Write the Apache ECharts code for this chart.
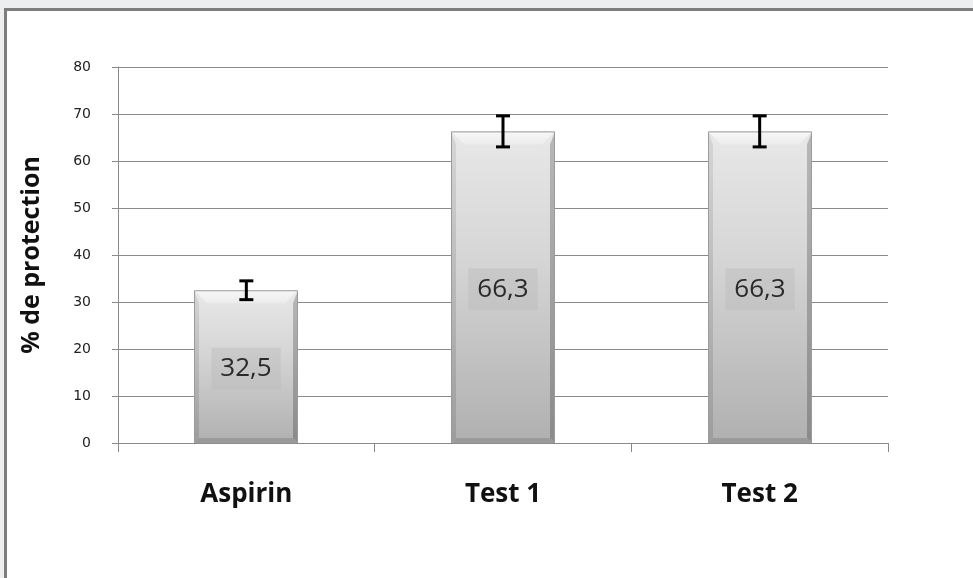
<!DOCTYPE html>
<html>
<head>
<meta charset="utf-8">
<script src="https://cdn.jsdelivr.net/npm/echarts@6/dist/echarts.min.js"></script>
<style>
html,body{margin:0;padding:0;background:#eceef0;}
#wrap{position:absolute;left:0;top:0;width:973px;height:578px;background:#eceef0;}
#frame{position:absolute;left:4px;top:8px;width:969px;height:570px;background:#fff;border-left:3px solid #7d7d7d;border-top:3px solid #7d7d7d;box-sizing:border-box;}
#chart{position:absolute;left:0;top:0;width:973px;height:578px;}
</style>
</head>
<body>
<div id="wrap"><div id="frame"></div><div id="chart"></div></div>
<script>
var categories = ['Aspirin', 'Test 1', 'Test 2'];
var values = [32.5, 66.3, 66.3];
var errors = [2.0, 3.3, 3.3];
var valueLabels = ['32,5', '66,3', '66,3'];
var yTicks = [0, 10, 20, 30, 40, 50, 60, 70, 80];

var chart = echarts.init(document.getElementById('chart'), null, {renderer: 'canvas'});

function renderBar(params, api) {
  var i = api.value(0);
  var v = api.value(1);
  var base = api.coord([i, 0]);
  var topP = api.coord([i, v]);
  var bw = 104;
  var x0 = Math.round(base[0] - bw / 2);
  var x1 = x0 + bw;
  var y0 = topP[1];
  var y1 = base[1];
  var h = y1 - y0;
  var b = 13;
  var bb = 5;
  return {
    type: 'group',
    children: [
      {type: 'rect', shape: {x: x0, y: y0, width: bw, height: h},
        style: {fill: new echarts.graphic.LinearGradient(0, 0, 0, 1, [
          {offset: 0, color: '#e8e8e8'},
          {offset: 0.4, color: '#d6d6d6'},
          {offset: 1, color: '#b0b0b0'}
        ])}},
      {type: 'polygon', shape: {points: [[x0, y0], [x0 + 5, y0 + b], [x0 + 5, y1 - bb], [x0, y1]]},
        style: {fill: new echarts.graphic.LinearGradient(0, 0, 0, 1, [
          {offset: 0, color: '#d6d6d6'},
          {offset: 1, color: '#9c9c9c'}
        ])}},
      {type: 'polygon', shape: {points: [[x1, y0], [x1 - 5, y0 + b], [x1 - 5, y1 - bb], [x1, y1]]},
        style: {fill: new echarts.graphic.LinearGradient(0, 0, 0, 1, [
          {offset: 0, color: '#b8b8b8'},
          {offset: 1, color: '#8a8a8a'}
        ])}},
      {type: 'polygon', shape: {points: [[x0, y0], [x1, y0], [x1 - 13, y0 + b], [x0 + 13, y0 + b]]},
        style: {fill: new echarts.graphic.LinearGradient(0, 0, 0, 1, [
          {offset: 0, color: '#f7f7f7'},
          {offset: 1, color: '#ececec'}
        ])}},
      {type: 'polygon', shape: {points: [[x0, y1], [x1, y1], [x1 - 5, y1 - bb], [x0 + 5, y1 - bb]]},
        style: {fill: '#9a9a9a'}},
      {type: 'rect', shape: {x: x0 + 0.5, y: y0 + 0.5, width: bw - 1, height: h - 1},
        style: {fill: null, stroke: '#9b9b9b', lineWidth: 1}},
      {type: 'text', x: (x0 + x1) / 2, y: (y0 + y1) / 2 + 2,
        style: {
          text: valueLabels[params.dataIndex],
          fontFamily: 'Open Sans', fontSize: 26, fill: '#2a2a2a',
          align: 'center', verticalAlign: 'middle',
          backgroundColor: 'rgba(185,185,185,0.4)',
          padding: [9, 9, 7, 9]
        }}
    ]
  };
}

var option = {
  backgroundColor: 'transparent',
  animation: false,
  grid: {left: 118, right: 85, top: 67, bottom: 135},
  xAxis: {
    type: 'category',
    data: categories,
    axisLine: {show: true, lineStyle: {color: '#8a8a8a', width: 1}},
    axisTick: {show: true, length: 9, lineStyle: {color: '#8a8a8a'}},
    axisLabel: {
      margin: 39,
      fontFamily: 'Open Sans',
      fontWeight: 'bold',
      fontSize: 26,
      color: '#111'
    }
  },
  yAxis: {
    type: 'value',
    min: yTicks[0],
    max: yTicks[yTicks.length - 1],
    interval: 10,
    name: '% de protection',
    nameLocation: 'middle',
    nameGap: 74,
    nameTextStyle: {fontFamily: 'Open Sans', fontWeight: 'bold', fontSize: 25, color: '#111'},
    axisLine: {show: true, lineStyle: {color: '#8a8a8a', width: 1}},
    axisTick: {show: true, length: 6, lineStyle: {color: '#8a8a8a'}},
    axisLabel: {margin: 27, fontFamily: 'DejaVu Sans', fontSize: 14, color: '#222'},
    splitLine: {show: true, lineStyle: {color: '#8a8a8a', width: 1}}
  },
  series: [
    {
      type: 'custom',
      data: values.map(function (v, i) { return [i, v]; }),
      renderItem: renderBar,
      z: 2
    },
    {
      type: 'custom',
      data: values.map(function (v, i) { return [i, v, errors[i]]; }),
      renderItem: function (params, api) {
        var x = api.value(0);
        var v = api.value(1);
        var e = api.value(2);
        var top = api.coord([x, v + e]);
        var bot = api.coord([x, v - e]);
        var hw = 7;
        var st = {stroke: '#000', lineWidth: 3};
        return {
          type: 'group',
          children: [
            {type: 'line', shape: {x1: top[0], y1: top[1], x2: bot[0], y2: bot[1]}, style: st},
            {type: 'line', shape: {x1: top[0] - hw, y1: top[1], x2: top[0] + hw, y2: top[1]}, style: st},
            {type: 'line', shape: {x1: bot[0] - hw, y1: bot[1], x2: bot[0] + hw, y2: bot[1]}, style: st}
          ]
        };
      },
      z: 5
    }
  ]
};
chart.setOption(option);
</script>
</body>
</html>
